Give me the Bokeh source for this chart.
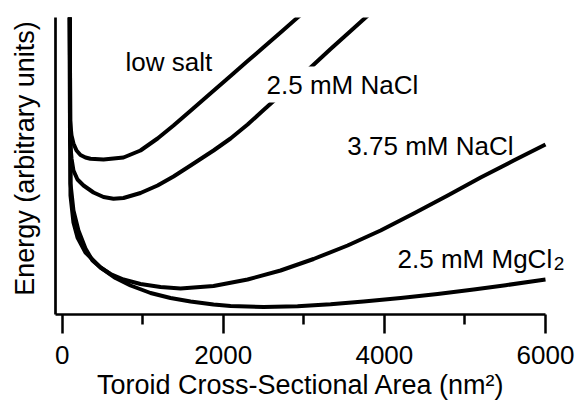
from bokeh.plotting import figure
from bokeh.models import Range1d, FixedTicker, Label
from bokeh.embed import file_html
from bokeh.resources import INLINE

FONT = "Liberation Sans"
NBSP = "\u00a0"

# Toroid cross-sectional area (nm^2) and energy (arbitrary units)
low_salt_x = [91, 97, 116, 140, 178, 227, 289, 351, 513, 761, 972, 1184, 1382, 1594, 1879, 2090, 2302, 2500, 2711, 2922, 3084]
low_salt_y = [374, 194, 179, 171, 164, 159.5, 157, 155.7, 155, 157, 164, 176, 189, 203.8, 223.8, 238.6, 253.4, 267.3, 282.1, 296.9, 308.2]

nacl_25_x = [91, 97, 116, 140, 190, 265, 389, 513, 637, 761, 972, 1184, 1382, 1594, 1879, 2090, 2302, 2500, 2798, 3084, 3332, 3581, 3767, 3929]
nacl_25_y = [374, 174, 156, 144, 135, 129, 122, 117.5, 115.8, 116.5, 121.5, 129, 138, 149, 164, 176, 190, 204.5, 226, 247, 265.5, 283.5, 297, 308.5]

nacl_375_x = [91, 103, 140, 202, 289, 376, 476, 600, 761, 972, 1221, 1469, 1879, 2302, 2711, 3121, 3543, 3953, 4364, 4786, 5195, 5605, 6000]
nacl_375_y = [374, 131, 104, 84, 66, 54, 47, 40.5, 35, 30.5, 27.5, 26, 28.5, 35, 44, 55.5, 69, 84, 101, 119, 137, 154, 170]

mgcl2_x = [91, 103, 140, 190, 289, 476, 662, 848, 1097, 1345, 1594, 1879, 2090, 2500, 2922, 3332, 3742, 4202, 4661, 5109, 5506, 6000]
mgcl2_y = [374, 119, 92, 77, 62, 47, 36.5, 29, 21.5, 16.5, 13, 10, 8.5, 7.5, 8.2, 10.2, 13, 16.5, 20.5, 25, 29.3, 35]

x_ticks = [0, 2000, 4000, 6000]
x_minor_ticks = [1000, 3000, 5000]

series_labels = ["low salt", "2.5 mM NaCl", "3.75 mM NaCl", "2.5 mM MgCl"]
label_x = [786, 2500, 3540, 4164]
label_y = [253, 230, 169, 56]

p = figure(width=576, height=407, output_backend="svg", toolbar_location=None,
           x_range=Range1d(-83, 6385), y_range=Range1d(0, 297),
           min_border_left=55, min_border_right=0, min_border_top=17, min_border_bottom=93)
p.outline_line_color = None
p.grid.visible = False
p.background_fill_color = "white"
p.border_fill_color = "white"

for xs, ys in [(low_salt_x, low_salt_y), (nacl_25_x, nacl_25_y), (nacl_375_x, nacl_375_y), (mgcl2_x, mgcl2_y)]:
    p.line(xs, ys, line_color="black", line_width=4, line_join="round")

xa = p.xaxis[0]
xa.bounds = (-83, 6000)
xa.ticker = FixedTicker(ticks=x_ticks, minor_ticks=x_minor_ticks)
xa.axis_line_width = 2.7
xa.axis_line_color = "black"
xa.major_tick_out = 19
xa.major_tick_in = 0
xa.minor_tick_out = 10
xa.minor_tick_in = 0
xa.major_tick_line_width = 2.5
xa.minor_tick_line_width = 2.5
xa.major_tick_line_color = "black"
xa.minor_tick_line_color = "black"
xa.major_label_text_font = FONT
xa.major_label_text_font_size = "26px"
xa.major_label_text_color = "black"
xa.major_label_standoff = 12
xa.axis_label = "Toroid Cross-Sectional Area (nm\u00b2)" + NBSP * 4
xa.axis_label_text_font = FONT
xa.axis_label_text_font_size = "27px"
xa.axis_label_text_font_style = "normal"
xa.axis_label_text_color = "black"
xa.axis_label_standoff = 3

ya = p.yaxis[0]
ya.ticker = FixedTicker(ticks=[])
ya.axis_line_width = 2.7
ya.axis_line_color = "black"
ya.major_tick_out = 0
ya.major_tick_in = 0
ya.minor_tick_out = 0
ya.minor_tick_in = 0
ya.major_label_standoff = 0
ya.axis_label = NBSP * 2 + "Energy (arbitrary units)"
ya.axis_label_text_font = FONT
ya.axis_label_text_font_size = "27px"
ya.axis_label_text_font_style = "normal"
ya.axis_label_text_color = "black"
ya.axis_label_standoff = 16

for t, lx, ly in zip(series_labels, label_x, label_y):
    kw = {}
    if t == "2.5 mM NaCl":
        kw = dict(background_fill_color="white", padding=3)
    p.add_layout(Label(x=lx, y=ly, text=t, text_font=FONT, text_font_size="26px",
                       text_color="black", text_baseline="alphabetic", text_align="left", **kw))

# subscript of MgCl2
p.add_layout(Label(x=6102, y=51, text="2", text_font=FONT, text_font_size="19px",
                   text_color="black", text_baseline="alphabetic", text_align="left"))

open("out.html", "w").write(file_html(p, INLINE))
